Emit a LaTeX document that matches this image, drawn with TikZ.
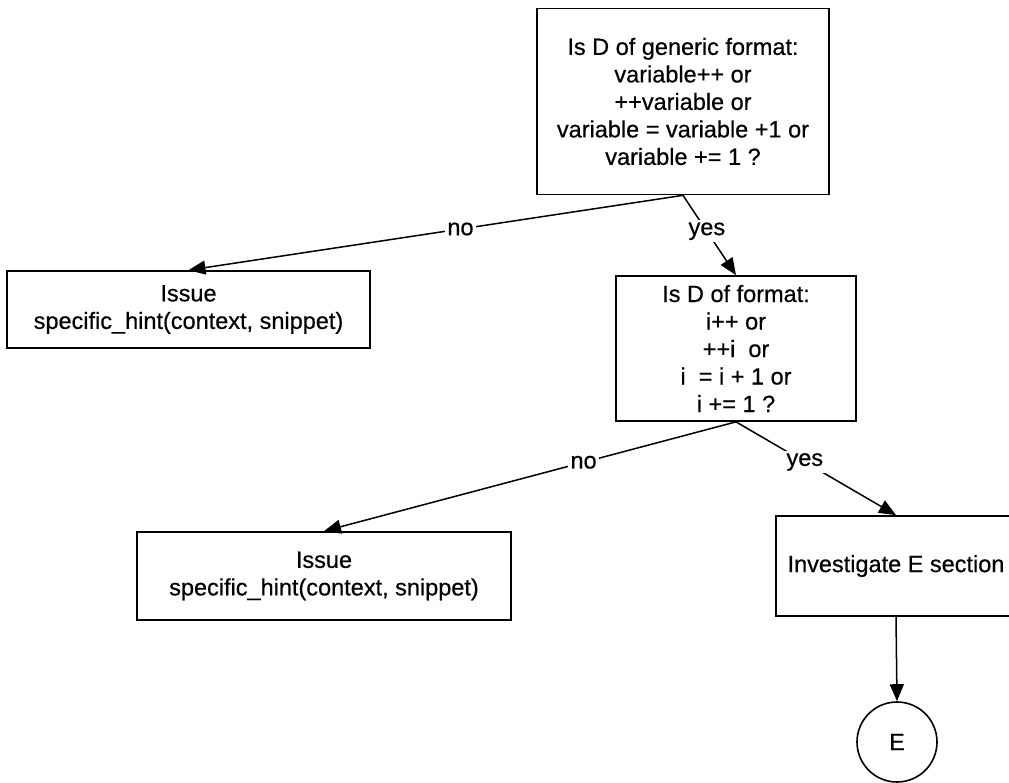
\documentclass[tikz,border=0pt]{standalone}
\usepackage{fontspec}
\setmainfont[FakeBold=0.5]{Liberation Sans}
\usetikzlibrary{arrows.meta}
\begin{document}
\begin{tikzpicture}[x=1pt,y=-1pt,
  txt/.style={font={\fontsize{23.5}{27.5}\selectfont}},
  flowbox/.style={txt,draw,line width=1.7pt,rectangle,align=center,inner sep=0pt},
  endcircle/.style={txt,draw,line width=1.6pt,circle,inner sep=0pt,minimum size=80pt},
  flow/.style={line width=1.5pt,-{Triangle[length=17pt,width=14pt]}},
  edgelabel/.style={txt,fill=white,inner sep=2pt}]
  \clip (0,0) rectangle (1009,783);
  \useasboundingbox (0,0) rectangle (1009,783);

  % decision boxes
  \node[flowbox,minimum width=292pt,minimum height=186pt] (generic) at (683,101.5)
    {Is D of generic format:\\variable++ or\\++variable or\\variable = variable +1 or\\variable += 1 ?};
  \node[flowbox,minimum width=240pt,minimum height=145pt] (format) at (736,348.5)
    {Is D of format:\\i++ or\\++i~ or\\i~ = i + 1 or\\i += 1 ?};

  % action boxes
  \node[flowbox,minimum width=363pt,minimum height=77pt] (hintA) at (188.5,309.5)
    {Issue\\specific\_hint(context, snippet)};
  \node[flowbox,minimum width=374pt,minimum height=88pt] (hintB) at (324,576)
    {Issue\\specific\_hint(context, snippet)};
  \node[flowbox,minimum width=240pt,minimum height=100pt] (invE) at (896,566)
    {Investigate E section};

  % connector to section E
  \node[endcircle] (E) at (897,742) {E};

  % connectors
  \draw[flow] (generic.south) -- node[edgelabel,pos=0.45] {no} (hintA.north);
  \draw[flow] (generic.south) -- node[edgelabel,pos=0.45] {yes} (format.north);
  \draw[flow] (format.south) -- node[edgelabel,pos=0.37] {no} (hintB.north);
  \draw[flow] (format.south) -- node[edgelabel,pos=0.43] {yes} (invE.north);
  \draw[flow] (invE.south) -- (E.north);
\end{tikzpicture}
\end{document}
